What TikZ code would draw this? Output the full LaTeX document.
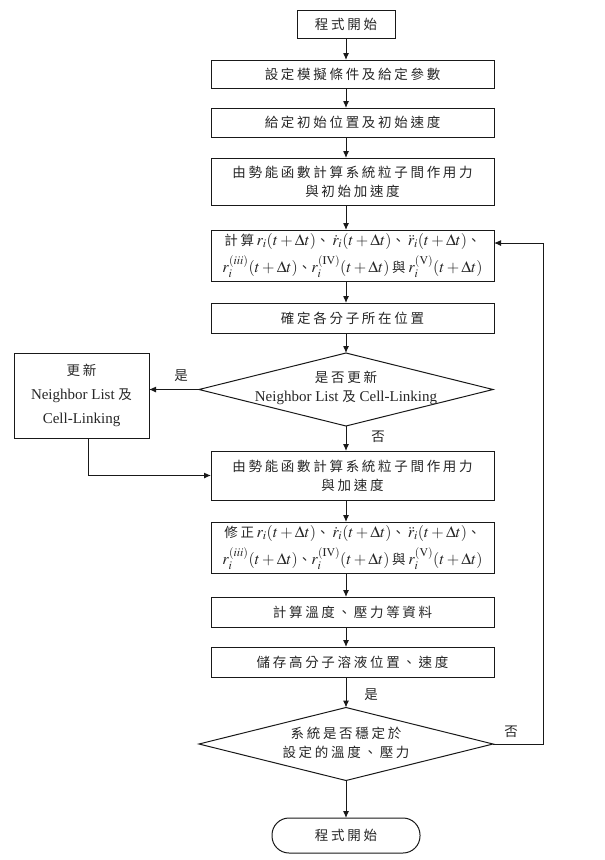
\documentclass[tikz,border=0pt]{standalone}
\usepackage{mathptmx}
\usepackage{fontspec}
\setmainfont{Liberation Serif}
\newfontfamily\cjk[LetterSpace=20]{Noto Sans CJK TC}
\newcommand{\zh}[1]{{\cjk\fontsize{13.5}{19}\selectfont #1}}
\usetikzlibrary{arrows.meta,shapes.geometric}
\begin{document}
\begin{tikzpicture}[x=1pt,y=-1pt,
  every node/.style={inner sep=0pt, outer sep=0pt, text=black!85},
  boxst/.style={draw=black!90, line width=1pt, minimum width=283pt, align=center, font=\fontsize{13.5}{19}\selectfont},
  mathbox/.style={boxst, font=\fontsize{16}{19}\selectfont},
  dia/.style={diamond, draw=black!90, line width=1pt, minimum width=294pt, minimum height=73pt},
  arr/.style={draw=black!90, line width=1pt, -{Latex[length=7pt,width=6pt]}},
  lbl/.style={font=\fontsize{13.5}{15}\selectfont\cjk}
]
\useasboundingbox (0,0) rectangle (605,860);
\node[draw=black!90, line width=1pt, minimum width=98pt, minimum height=28pt, font=\fontsize{13.5}{15}\selectfont] (start) at (346,24) {\zh{程式開始}};
\node[boxst, minimum height=28pt] (b1) at (352.5,74) {\zh{設定模擬條件及給定參數}};
\node[boxst, minimum height=29pt] (b2) at (352.5,122.5) {\zh{給定初始位置及初始速度}};
\node[boxst, minimum height=47pt] (b3) at (352.5,181.5) {\zh{由勢能函數計算系統粒子間作用力}\\\zh{與初始加速度}};
\node[mathbox, minimum height=51pt] (b4) at (352.5,255.5) {\zh{計算}\,$r_i(t+\Delta t)$\zh{、}\,$\dot{r}_i(t+\Delta t)$\zh{、}\,$\ddot{r}_i(t+\Delta t)$\zh{、}\\[5pt]$r_i^{(iii)}(t+\Delta t)$\zh{、}$r_i^{(\mathrm{IV})}(t+\Delta t)$\,\zh{與}\,$r_i^{(\mathrm{V})}(t+\Delta t)$};
\node[boxst, minimum height=30pt] (b5) at (352.5,318) {\zh{確定各分子所在位置}};
\node[dia] (d1) at (346,389.5) {};
\node[align=center, font=\fontsize{15}{19}\selectfont] (d1t) at (346,388) {\zh{是否更新}\\Neighbor List \zh{及} Cell-Linking};
\node[draw=black!90, line width=1pt, minimum width=135pt, minimum height=85pt, align=center, font=\fontsize{15}{24}\selectfont] (L) at (81.5,395.5) {\zh{更新}\\Neighbor List \zh{及}\\Cell-Linking};
\node[boxst, minimum height=49pt] (b6) at (352.5,475.5) {\zh{由勢能函數計算系統粒子間作用力}\\\zh{與加速度}};
\node[mathbox, minimum height=51pt] (b7) at (352.5,547.5) {\zh{修正}\,$r_i(t+\Delta t)$\zh{、}\,$\dot{r}_i(t+\Delta t)$\zh{、}\,$\ddot{r}_i(t+\Delta t)$\zh{、}\\[5pt]$r_i^{(iii)}(t+\Delta t)$\zh{、}$r_i^{(\mathrm{IV})}(t+\Delta t)$\,\zh{與}\,$r_i^{(\mathrm{V})}(t+\Delta t)$};
\node[boxst, minimum height=30pt] (b8) at (352.5,612) {\zh{計算溫度、壓力等資料}};
\node[boxst, minimum height=30pt] (b9) at (352.5,662) {\zh{儲存高分子溶液位置、速度}};
\node[dia] (d2) at (346,744) {};
\node[align=center, font=\fontsize{13.5}{19}\selectfont] (d2t) at (346,743) {\zh{系統是否穩定於}\\\zh{設定的溫度、壓力}};
\node[draw=black!90, line width=1pt, rounded corners=17pt, minimum width=148pt, minimum height=35pt, font=\fontsize{13.5}{15}\selectfont] (end) at (346,835.5) {\zh{程式開始}};
\coordinate (loopc) at (543,243);
\node[lbl] (lyes1) at (181,376) {是};
\node[lbl] (lno1) at (378,437) {否};
\node[lbl] (lyes2) at (371,695) {是};
\node[lbl] (lno2) at (511,732) {否};
% connectors
\draw[arr] (start.south) -- (start.south |- b1.north);
\draw[arr] (b1.south -| start) -- (b2.north -| start);
\draw[arr] (b2.south -| start) -- (b3.north -| start);
\draw[arr] (b3.south -| start) -- (b4.north -| start);
\draw[arr] (b4.south -| start) -- (b5.north -| start);
\draw[arr] (b5.south -| start) -- (d1.north);
\draw[arr] (d1.west) -- (d1.west -| L.east);
\draw[arr] (d1.south) -- (d1.south |- b6.north);
\draw[arr] ([xshift=6.5pt]L.south) |- (b6.west);
\draw[arr] (b6.south -| start) -- (b7.north -| start);
\draw[arr] (b7.south -| start) -- (b8.north -| start);
\draw[arr] (b8.south -| start) -- (b9.north -| start);
\draw[arr] (b9.south -| start) -- (d2.north);
\draw[arr] (d2.south) -- (end.north);
\draw[arr] (d2.east) -| (loopc) -- (loopc -| b4.east);
\end{tikzpicture}
\end{document}
